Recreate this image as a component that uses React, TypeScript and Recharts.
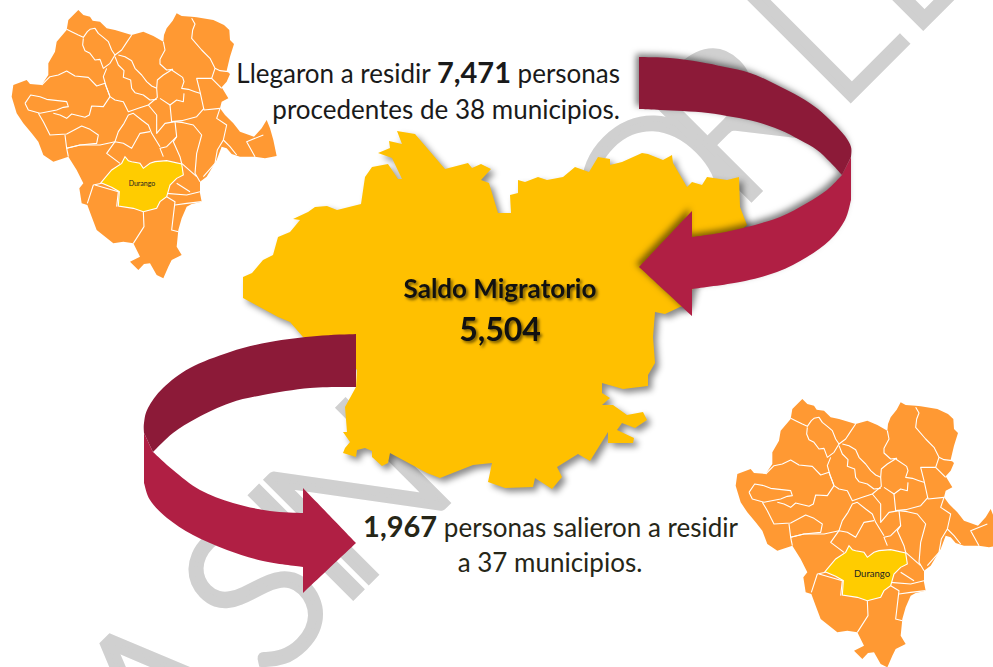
import { Scatter, ScatterChart, XAxis, YAxis } from "recharts";

type Pair = [number, number];

// watermark letters, read along the diagonal (x of the letter on the baseline)
const watermarkChars = ["A", "S", "I", "N", "O", "R", "L", "E"];
const watermarkX = [208, 306, 357, 408, 708, 780, 872, 950];

// central municipality outline
const centralOutline: Pair[] = [
  [397, 131], [415, 134], [427, 148], [445, 169], [468, 163], [472, 168], [481, 164], [491, 169], [481, 180], [489, 183],
  [498, 213], [511, 213], [510, 195], [518, 193], [518, 180], [525, 182], [538, 177], [547, 180], [563, 177], [575, 167],
  [589, 172], [598, 157], [610, 159], [610, 165], [622, 162], [642, 153], [648, 154], [663, 160], [672, 155], [673, 163],
  [687, 187], [692, 182], [702, 185], [707, 177], [727, 180], [739, 177], [740, 207], [747, 225], [720, 250], [695, 280],
  [688, 305], [680, 307], [665, 314], [655, 312], [653, 337], [655, 363], [648, 375], [648, 386], [623, 389], [602, 383], [602, 393],
  [610, 398], [602, 405], [613, 405], [627, 415], [643, 412], [647, 420], [635, 428], [622, 423], [617, 430], [634, 438],
  [633, 443], [620, 443], [608, 443], [608, 432], [590, 461], [578, 454], [557, 467], [562, 477], [552, 489], [535, 478],
  [533, 487], [505, 488], [488, 482], [492, 463], [473, 465], [440, 478], [427, 473], [390, 453], [388, 463], [382, 466],
  [372, 457], [372, 451], [365, 448], [357, 450], [356, 457], [343, 453], [345, 448], [350, 442], [343, 432], [347, 432],
  [345, 407], [356, 387], [357, 370], [340, 350], [303, 337], [290, 322], [278, 317], [243, 298], [243, 277], [252, 273],
  [263, 260], [273, 255], [278, 237], [290, 232], [300, 220], [293, 219], [308, 212], [315, 207], [327, 206], [337, 210],
  [361, 204], [365, 177], [372, 167], [388, 164], [398, 179], [402, 179], [392, 158], [378, 153], [390, 148], [389, 141],
  [402, 144],
];

// ribbon arrows: dark back band, light front band with the head
const topArrowDark: Pair[] = [
  [639, 57], [670, 58], [700, 62], [725, 67], [750, 73], [775, 84], [800, 97], [818, 109], [833, 123], [845, 136], [851, 147], [851, 157],
  [842, 175], [830, 162], [817, 150], [800, 140], [780, 130], [757, 122], [733, 117], [708, 113], [683, 111], [660, 110], [639, 109],
];
const topDarkCorners = [0, 11, 12, 22];
const topArrowLight: Pair[] = [
  [842, 175], [851, 157], [851, 200], [845, 220], [830, 240], [807, 257], [777, 272], [740, 282], [692, 289], [692, 316], [639, 267],
  [692, 211], [692, 237], [720, 233], [747, 227], [780, 217], [807, 203], [827, 190],
];
const topLightCorners = [0, 1, 2, 8, 9, 10, 11, 12];
const bottomArrowDark: Pair[] = [
  [356, 334], [317, 336], [270, 342], [230, 352], [190, 368], [163, 388], [148, 408], [144, 423], [144, 433], [153, 452],
  [173, 433], [197, 418], [230, 403], [263, 395], [310, 388], [356, 387],
];
const bottomDarkCorners = [0, 8, 9, 15];
const bottomArrowLight: Pair[] = [
  [144, 433], [153, 452], [173, 470], [200, 490], [233, 503], [270, 511], [303, 513], [303, 488], [356, 543], [303, 593], [303, 567],
  [263, 561], [227, 550], [193, 535], [167, 518], [150, 500], [144, 483],
];
const bottomLightCorners = [0, 1, 6, 7, 8, 9, 10, 16];

// state map, in 3x crop units
const stateOutline: Pair[] = [
  [235, 30], [250, 45], [270, 50], [278, 62], [300, 65], [320, 85], [345, 90], [395, 105], [430, 95], [460, 108], [490, 125], [492, 105],
  [500, 85], [518, 62], [530, 40], [545, 48], [575, 50], [590, 52], [640, 60], [672, 75], [688, 90], [690, 120], [702, 132], [690, 170],
  [680, 212], [690, 222], [680, 245], [665, 262], [685, 295], [665, 305], [660, 325], [675, 345], [700, 370], [720, 395], [762, 410],
  [785, 385], [800, 360], [810, 385], [820, 420], [830, 468], [795, 475], [765, 470], [720, 470], [695, 462], [680, 445], [665, 440],
  [650, 480], [620, 530], [600, 545], [600, 580], [605, 605], [575, 612], [560, 620], [545, 655], [535, 690], [530, 740], [545, 765],
  [515, 780], [505, 800], [490, 835], [470, 825], [450, 790], [432, 792], [415, 810], [390, 785], [420, 770], [400, 730], [370, 725],
  [340, 730], [290, 690], [275, 650], [262, 615], [245, 610], [238, 565], [250, 550], [230, 510], [205, 470], [160, 485], [130, 465],
  [115, 425], [95, 400], [70, 370], [50, 340], [35, 290], [40, 255], [80, 240], [90, 252], [125, 255], [145, 225], [145, 190], [165, 155],
  [170, 125], [200, 90], [205, 60],
];
const capitalOutline: Pair[] = [
  [303, 548], [335, 510], [365, 490], [375, 470], [385, 482], [395, 485], [420, 490], [430, 505], [450, 490], [465, 485], [500, 482],
  [545, 492], [550, 525], [530, 535], [510, 555], [500, 590], [480, 605], [470, 625], [430, 635], [400, 625], [355, 618], [358, 575],
  [335, 562],
];
const stateBorders: Pair[][] = [
  [[200, 88], [215, 95], [235, 105], [250, 112], [262, 95], [270, 88], [285, 85], [295, 100], [310, 112], [325, 125], [335, 150], [345, 165], [365, 150], [378, 130], [395, 105]],
  [[250, 115], [248, 135], [255, 152], [270, 160], [285, 180], [300, 178], [310, 205], [330, 190], [345, 165]],
  [[355, 165], [375, 170], [395, 182], [405, 205], [425, 225], [440, 245], [455, 258], [470, 265]],
  [[345, 170], [355, 195], [372, 212], [370, 232], [392, 240], [395, 265], [405, 278], [430, 285], [450, 300], [470, 298]],
  [[490, 125], [495, 150], [480, 178], [480, 192], [500, 210], [518, 208], [490, 225], [472, 240], [470, 265], [472, 292], [445, 315]],
  [[575, 55], [585, 72], [578, 90], [575, 115], [605, 150], [630, 175], [645, 205], [660, 212], [685, 215]],
  [[645, 205], [635, 235], [590, 235], [600, 275], [612, 330], [660, 325]],
  [[635, 235], [650, 250], [665, 265]],
  [[515, 210], [548, 232], [552, 245], [545, 265], [565, 268], [585, 275], [600, 280]],
  [[480, 295], [510, 315], [530, 300], [550, 305], [552, 280]],
  [[510, 315], [515, 365], [545, 362], [590, 350], [612, 325]],
  [[445, 315], [415, 325], [385, 335], [370, 305], [345, 300], [330, 290], [318, 258], [310, 230], [320, 205]],
  [[330, 290], [310, 320], [275, 318], [268, 345], [255, 352], [215, 342], [200, 355], [180, 345], [160, 340]],
  [[125, 255], [150, 230], [175, 225], [200, 213], [225, 228], [265, 232], [290, 258], [315, 250], [330, 290]],
  [[75, 310], [92, 285], [120, 290], [140, 298], [200, 305], [205, 320], [190, 322], [170, 330], [120, 340], [85, 330], [75, 310]],
  [[115, 340], [130, 365], [150, 405], [200, 402], [245, 378], [270, 388], [295, 405], [290, 430], [240, 435], [200, 445], [195, 405]],
  [[200, 445], [240, 435], [300, 435], [345, 425], [370, 430], [395, 445], [420, 400], [450, 395]],
  [[345, 425], [355, 395], [372, 370], [385, 345], [400, 340], [425, 360], [445, 375], [455, 400], [480, 440]],
  [[445, 315], [470, 345], [470, 400], [495, 370], [525, 365], [530, 410], [500, 440], [480, 445], [490, 470]],
  [[525, 365], [550, 368], [580, 375], [605, 405], [590, 460], [585, 520], [600, 545]],
  [[530, 410], [520, 425], [540, 470], [545, 490], [590, 530]],
  [[345, 425], [320, 460], [360, 490]],
  [[660, 325], [650, 355], [680, 375], [670, 420], [652, 450], [645, 490], [610, 530]],
  [[670, 420], [690, 440], [710, 465]],
  [[765, 470], [740, 425], [790, 405]],
  [[305, 550], [280, 555], [262, 610]],
  [[350, 620], [355, 575], [285, 555]],
  [[430, 635], [432, 680], [400, 730]],
  [[500, 590], [525, 605], [515, 690], [535, 695]],
  [[525, 615], [560, 610], [605, 605]],
  [[500, 580], [560, 585], [600, 575]],
  [[530, 550], [570, 575]],
  [[205, 470], [200, 445]],
];

const FONT = "Lato, 'Open Sans', sans-serif";
const CENTRAL_SHADOW = "drop-shadow(4px 4px 3px rgba(0,0,0,0.45))";
const ARROW_SHADOW = "drop-shadow(-3px -3px 3px rgba(0,0,0,0.5))";
const TEXT_SHADOW = "drop-shadow(2px 2px 1.5px rgba(0,0,0,0.55))";

const toPoints = (list: Pair[]) => list.map(([x, y]) => ({ x, y }));
const fromCrop = (list: Pair[], dx: number, dy: number) =>
  list.map(([x, y]) => ({ x: dx + x / 3, y: dy + y / 3 }));

const noDot = () => <g />;
const joined = (pts: { x: number; y: number }[]) => pts.map((p) => `${p.x},${p.y}`).join(" ");

// closed path, Catmull-Rom between the listed corners, so the ribbon edges read as curves
function ribbonPath(pts: { x: number; y: number }[], corners: number[]) {
  const n = pts.length;
  let d = `M${pts[0].x},${pts[0].y}`;
  for (let i = 0; i < n; i++) {
    const a = pts[i];
    const b = pts[(i + 1) % n];
    const prev = corners.includes(i) ? a : pts[(i - 1 + n) % n];
    const next = corners.includes((i + 1) % n) ? b : pts[(i + 2) % n];
    d += `C${a.x + (b.x - prev.x) / 6},${a.y + (b.y - prev.y) / 6} ${b.x - (next.x - a.x) / 6},${b.y - (next.y - a.y) / 6} ${b.x},${b.y}`;
  }
  return d + "Z";
}

const polygon = (fill: string, stroke?: string, filter?: string) => (props: any) => (
  <polygon points={joined(props.points)} fill={fill} stroke={stroke ?? "none"} strokeWidth={1.1} style={{ filter }} />
);
const polyline = (props: any) => (
  <polyline points={joined(props.points)} fill="none" stroke="#fff" strokeWidth={1.1} strokeLinejoin="round" />
);
// two bands share one shadow so the dark band throws none on the light one
const ribbon = (split: number, darkCorners: number[], lightCorners: number[], filter?: string) => (props: any) => (
  <g style={{ filter }}>
    <path d={ribbonPath(props.points.slice(split), lightCorners)} fill="#B01F44" />
    <path d={ribbonPath(props.points.slice(0, split), darkCorners)} fill="#8C1A38" />
  </g>
);

const area = (key: string, data: any[], line: any) => (
  <Scatter key={key} data={data} line={line} shape={noDot} isAnimationActive={false} legendType="none" />
);

const label =
  (anchor: string, size: number, weight: number, fill: string, children: any, filter?: string) => (props: any) => (
    <text
      x={props.cx}
      y={props.cy}
      textAnchor={anchor}
      fontFamily={FONT}
      fontSize={size}
      fontWeight={weight}
      fill={fill}
      style={{ filter }}
    >
      {children}
    </text>
  );

const textAt = (key: string, x: number, y: number, shape: any) => (
  <Scatter key={key} data={[{ x, y }]} shape={shape} isAnimationActive={false} legendType="none" />
);

const bold = (s: string) => <tspan fontWeight={700} fontSize={29}>{s}</tspan>;

const stateMap = (id: string, dx: number, dy: number, size: number, nameX: number, nameY: number) => [
  area(`${id}-state`, fromCrop(stateOutline, dx, dy), polygon("#FF9933")),
  ...stateBorders.map((b, i) => area(`${id}-b${i}`, fromCrop(b, dx, dy), polyline)),
  area(`${id}-capital`, fromCrop(capitalOutline, dx, dy), polygon("#FFCC00", "#fff")),
  textAt(`${id}-name`, nameX, nameY, label("middle", size, 400, "#222", "Durango")),
];

export default function App() {
  return (
    <div style={{ position: "absolute", left: 0, top: 0, width: 993, height: 667, overflow: "hidden", background: "#fff" }}>
      <ScatterChart width={993} height={667} margin={{ top: 0, right: 0, bottom: 0, left: 0 }}>
        <XAxis type="number" dataKey="x" domain={[0, 993]} allowDataOverflow hide />
        <YAxis type="number" dataKey="y" domain={[0, 667]} allowDataOverflow reversed hide />

        {watermarkChars.map((ch, i) => (
          <Scatter
            key={`wm${i}`}
            data={[{ x: watermarkX[i], y: 950 - watermarkX[i] }]}
            isAnimationActive={false}
            legendType="none"
            shape={(p: any) => (
              <text
                x={p.cx}
                y={p.cy}
                textAnchor="middle"
                fontFamily={FONT}
                fontWeight={300}
                fontSize={203}
                fill="#D0D0D0"
                stroke="#D0D0D0"
                strokeWidth={6}
                strokeLinejoin="miter"
                transform={`rotate(-45 ${p.cx} ${p.cy})`}
              >
                {ch}
              </text>
            )}
          />
        ))}

        {stateMap("left", 0, 0, 7, 142, 186)}
        {stateMap("right", 724, 389, 9.5, 872, 577)}

        {area("central", toPoints(centralOutline), polygon("#FFC000", undefined, CENTRAL_SHADOW))}
        {area("top-arrow", toPoints([...topArrowDark, ...topArrowLight]), ribbon(topArrowDark.length, topDarkCorners, topLightCorners, ARROW_SHADOW))}
        {area("bottom-arrow", toPoints([...bottomArrowDark, ...bottomArrowLight]), ribbon(bottomArrowDark.length, bottomDarkCorners, bottomLightCorners))}

        {textAt("t1", 620, 83, label("end", 26, 400, "#1a1a1a", <>Llegaron a residir {bold("7,471")} personas</>))}
        {textAt("t2", 620, 119, label("end", 26, 400, "#1a1a1a", "procedentes de 38 municipios."))}
        {textAt("t3", 500, 298, label("middle", 26, 700, "#111", "Saldo Migratorio", TEXT_SHADOW))}
        {textAt("t4", 500, 341, label("middle", 32, 700, "#111", "5,504", TEXT_SHADOW))}
        {textAt("t5", 738, 537, label("end", 26, 400, "#262617", <>{bold("1,967")} personas salieron a residir</>))}
        {textAt("t6", 550, 572, label("middle", 26, 400, "#262617", "a 37 municipios."))}
      </ScatterChart>
    </div>
  );
}
